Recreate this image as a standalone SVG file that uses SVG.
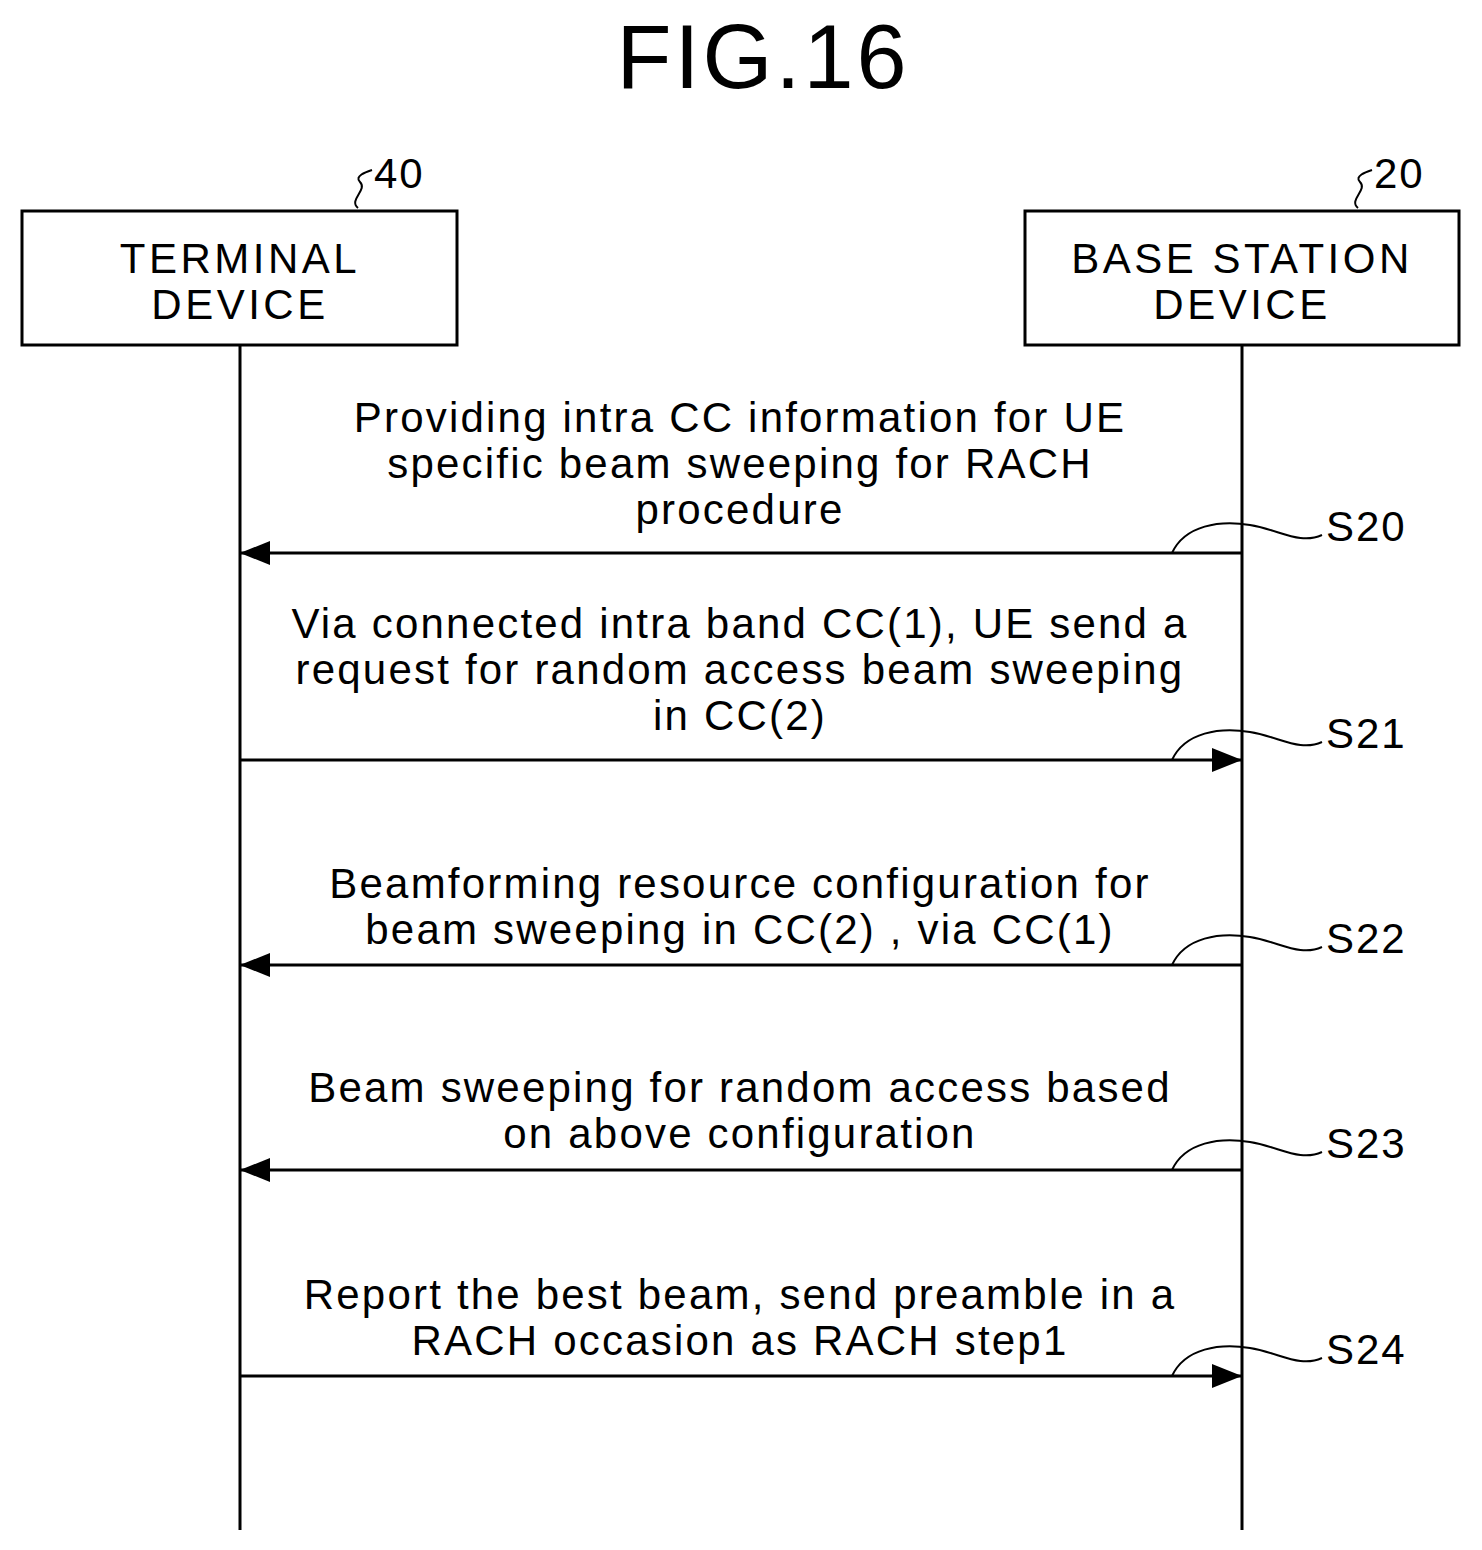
<svg xmlns="http://www.w3.org/2000/svg" width="1482" height="1550" viewBox="0 0 1482 1550">
<style>
text{font-family:"Liberation Sans",Arial,sans-serif;fill:#000}
.m{font-size:42px;text-anchor:middle;letter-spacing:2.2px}
.n{font-size:42px;text-anchor:middle;letter-spacing:3.5px}
.s{font-size:42px;letter-spacing:2px}
.b{fill:#fff;stroke:#000;stroke-width:3}
.l{stroke:#000;stroke-width:3;fill:none}
.t{stroke:#000;stroke-width:2;fill:none}
</style>
<defs>
<marker id="h" viewBox="0 0 30 24" refX="30" refY="12" markerWidth="30" markerHeight="24" orient="auto" markerUnits="userSpaceOnUse"><path d="M0,0L30,12L0,24z"/></marker></defs>
<rect width="1482" height="1550" fill="#fff"/>
<text x="763" y="88" font-size="90" text-anchor="middle" letter-spacing="3">FIG.16</text>
<g id="n40"><rect class="b" x="22" y="211" width="435" height="134"/><text class="n" x="240" y="273">TERMINAL</text><text class="n" x="240" y="319">DEVICE</text><path class="t" d="M358,208 C348,200 368,190 360,182 C354,176 366,172 372,170"/><text class="s" x="374" y="188">40</text></g>
<g id="n20"><rect class="b" x="1025" y="211" width="434" height="134"/><text class="n" x="1242" y="273">BASE STATION</text><text class="n" x="1242" y="319">DEVICE</text><path class="t" d="M1358,208 C1348,200 1368,190 1360,182 C1354,176 1366,172 1372,170"/><text class="s" x="1374" y="188">20</text></g>
<g id="connectors">
<line class="l" x1="240" y1="345" x2="240" y2="1530"/>
<line class="l" x1="1242" y1="345" x2="1242" y2="1530"/>
<line class="l" x1="1242" y1="553" x2="240" y2="553" marker-end="url(#h)"/>
<line class="l" x1="240" y1="760" x2="1242" y2="760" marker-end="url(#h)"/>
<line class="l" x1="1242" y1="965" x2="240" y2="965" marker-end="url(#h)"/>
<line class="l" x1="1242" y1="1170" x2="240" y2="1170" marker-end="url(#h)"/>
<line class="l" x1="240" y1="1376" x2="1242" y2="1376" marker-end="url(#h)"/>
</g>
<g id="labels">
<text class="m" x="740" y="432">Providing intra CC information for UE</text>
<text class="m" x="740" y="478">specific beam sweeping for RACH</text>
<text class="m" x="740" y="524">procedure</text>
<text class="m" x="740" y="638">Via connected intra band CC(1), UE send a</text>
<text class="m" x="740" y="684">request for random access beam sweeping</text>
<text class="m" x="740" y="730">in CC(2)</text>
<text class="m" x="740" y="898">Beamforming resource configuration for</text>
<text class="m" x="740" y="944">beam sweeping in CC(2) , via CC(1)</text>
<text class="m" x="740" y="1102">Beam sweeping for random access based</text>
<text class="m" x="740" y="1148">on above configuration</text>
<text class="m" x="740" y="1309">Report the best beam, send preamble in a</text>
<text class="m" x="740" y="1355">RACH occasion as RACH step1</text>
</g>
<g id="steps">
<path class="t" d="M1172,553 C1185,525 1220,520 1250,525 S1300,545 1322,535"/><text class="s" x="1326" y="541">S20</text>
<path class="t" d="M1172,760 C1185,732 1220,727 1250,732 S1300,752 1322,742"/><text class="s" x="1326" y="748">S21</text>
<path class="t" d="M1172,965 C1185,937 1220,932 1250,937 S1300,957 1322,947"/><text class="s" x="1326" y="953">S22</text>
<path class="t" d="M1172,1170 C1185,1142 1220,1137 1250,1142 S1300,1162 1322,1152"/><text class="s" x="1326" y="1158">S23</text>
<path class="t" d="M1172,1376 C1185,1348 1220,1343 1250,1348 S1300,1368 1322,1358"/><text class="s" x="1326" y="1364">S24</text>
</g>
</svg>
